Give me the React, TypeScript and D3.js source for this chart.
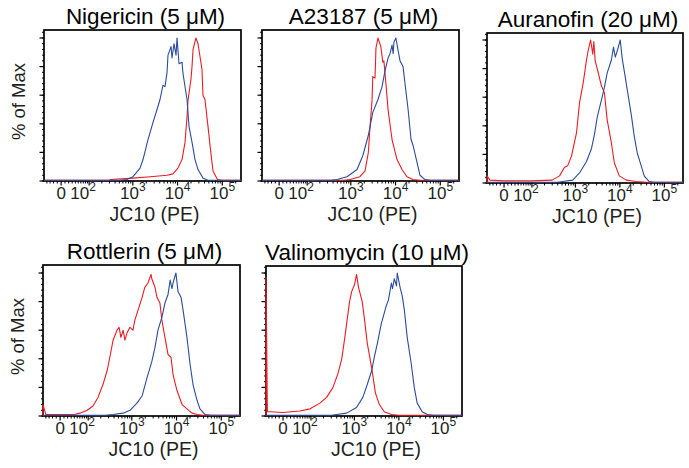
import React, { useEffect, useRef } from 'react';
import * as d3 from 'd3';

// JC10 (PE) intensity vs % of max
const nigericinRed = [[-50, 0.5], [300, 0.5], [310, 1], [1010, 2], [2470, 3], [5820, 4], [7900, 5], [10200, 9], [12600, 15], [14700, 27], [16300, 45], [17100, 56], [20100, 72], [21070, 80], [22200, 92], [25800, 100], [28700, 96], [35200, 78], [37000, 60], [41000, 57], [48000, 38], [55000, 21], [62000, 7], [78000, 1], [100000, 0.5], [262144, 0.5]];
const nigericinBlue = [[-50, 0.5], [500, 0.5], [740, 1], [1010, 3], [1450, 9], [1690, 15], [2190, 29], [2830, 41], [3480, 50], [4060, 57], [4730, 67], [5250, 66], [5820, 76], [6120, 88], [7150, 94], [7530, 86], [8340, 96], [9250, 88], [9730, 100], [10800, 82], [12600, 83], [13270, 75], [16300, 57], [18070, 38], [21090, 27], [24600, 15], [28700, 8], [37150, 2], [48100, 0.5], [262144, 0.5]];

const a23187Red = [[-50, 0.5], [700, 0.5], [960, 1], [1600, 3], [2080, 7], [2470, 20], [2690, 38], [2980, 56], [3100, 73], [3480, 72], [3650, 93], [4050, 100], [4700, 94], [5200, 83], [5500, 84], [6100, 68], [6800, 50], [8350, 29], [10800, 15], [13960, 8], [18000, 3], [24600, 1], [35000, 0.5], [262144, 0.5]];
const a23187Blue = [[-50, 0.5], [350, 0.5], [490, 1], [820, 3], [1380, 8], [1870, 18], [2470, 32], [3100, 48], [4050, 57], [4990, 66], [5820, 77], [6800, 86], [7530, 89], [8350, 95], [8850, 89], [9200, 97], [10200, 100], [11300, 92], [12600, 84], [14700, 80], [16300, 68], [19100, 50], [22200, 29], [24600, 25], [30200, 13], [35200, 4], [45700, 1], [60000, 0.5], [262144, 0.5]];

const auranofinRed = [[-50, 0], [-50, 5], [-40, 2], [0, 1.5], [100, 1.5], [300, 2], [440, 5], [570, 11], [670, 12], [820, 19], [1060, 35], [1240, 56], [1500, 70], [1780, 86], [1950, 93], [2200, 100], [2470, 90], [2600, 99], [2800, 85], [3100, 80], [3850, 68], [4500, 63], [5200, 44], [6450, 28], [7530, 14], [9700, 5], [13960, 2], [23350, 1], [40000, 0.5], [262144, 0.5]];
const auranofinBlue = [[-50, 0.5], [400, 0.5], [520, 1], [870, 2], [1240, 7], [1780, 15], [2300, 24], [2690, 34], [3100, 46], [3850, 58], [4500, 67], [5200, 77], [6450, 86], [7200, 95], [7900, 88], [8850, 93], [10200, 100], [11300, 87], [12600, 78], [14700, 65], [18000, 48], [21000, 33], [24600, 21], [30200, 12], [35200, 5], [45700, 1], [60000, 0.5], [262144, 0.5]];

const rottlerinRed = [[-50, 0], [-50, 8], [-40, 1], [0, 1], [40, 1], [60, 2], [95, 4], [131, 7], [172, 13], [224, 22], [280, 32], [330, 43], [380, 53], [465, 60], [520, 62], [570, 55], [640, 60], [700, 53], [780, 58], [910, 62], [1060, 60], [1170, 67], [1380, 74], [1700, 83], [1950, 90], [2300, 93], [2690, 99], [2800, 96], [3300, 90], [3650, 83], [4250, 79], [4700, 67], [5500, 55], [6450, 43], [7530, 41], [8350, 29], [10200, 18], [13300, 8], [17100, 5], [22200, 2], [28700, 1], [40000, 0.5], [262144, 0.5]];
const rottlerinBlue = [[-50, 0.5], [250, 0.5], [380, 1], [640, 2], [910, 4], [1300, 9], [1700, 14], [2200, 27], [2800, 38], [3300, 48], [3850, 60], [4700, 69], [5500, 79], [6450, 85], [7200, 95], [7900, 89], [8350, 93], [9700, 100], [10800, 87], [12600, 83], [14000, 74], [17100, 55], [20100, 36], [23350, 22], [28700, 11], [33400, 5], [43500, 1], [60000, 0.5], [262144, 0.5]];

const valinomycinRed = [[-50, 0], [-50, 97], [-45, 3], [-36, 3], [0, 2.5], [49, 3.5], [95, 5], [165, 9], [235, 13], [330, 20], [430, 30], [520, 40], [610, 55], [780, 80], [870, 87], [1010, 92], [1120, 99], [1240, 90], [1500, 80], [1700, 67], [1950, 51], [2470, 33], [2980, 16], [3650, 8], [4700, 3], [6800, 1], [10000, 0.5], [262144, 0.5]];
const valinomycinBlue = [[-50, 0.5], [300, 0.5], [400, 1], [670, 2], [1120, 6], [1550, 13], [1950, 22], [2470, 32], [2800, 41], [3300, 51], [4050, 65], [4250, 67], [5200, 77], [5820, 81], [6800, 93], [7200, 89], [7900, 96], [8850, 91], [9200, 100], [10800, 89], [11900, 84], [13300, 74], [15400, 55], [19100, 36], [22200, 20], [25800, 9], [33400, 3], [43500, 1], [60000, 0.5], [262144, 0.5]];

const titles = ['Nigericin (5 μM)', 'A23187 (5 μM)', 'Auranofin (20 μM)', 'Rottlerin (5 μM)', 'Valinomycin (10 μM)'];
const reds = [nigericinRed, a23187Red, auranofinRed, rottlerinRed, valinomycinRed];
const blues = [nigericinBlue, a23187Blue, auranofinBlue, rottlerinBlue, valinomycinBlue];

const xTicks = [0, 100, 1000, 10000, 100000];
const xTickExp = ['', '2', '3', '4', '5'];
const yTicks = [0, 20, 40, 60, 80, 100];

// plot frames: left, top, right, bottom
const frames = [[44, 30, 241, 181], [262, 30, 459, 181], [487, 33, 683, 183], [43, 265, 240, 416], [266, 266, 462, 416]];

const X_MIN = -50;
const X_MAX = 262144;
const FONT = 'Liberation Sans, Arial, Helvetica, sans-serif';
const INK = '#231f20';

// biexponential-ish display transform
const biex = (v) => Math.asinh(v / 50) / Math.LN10;

function App() {
  const svgRef = useRef(null);

  useEffect(() => {
    const svg = d3.select(svgRef.current);
    svg.selectAll('*').remove();
    svg.append('rect').attr('width', 689).attr('height', 468).attr('fill', '#fff');

    // minor ticks along x
    const minorX = [];
    for (let v = -40; v < 0; v += 10) minorX.push(v);
    for (let v = 10; v < 100; v += 10) minorX.push(v);
    for (let p = 100; p <= 100000; p *= 10) {
      for (let m = 2; m <= 9; m++) if (p * m <= X_MAX) minorX.push(p * m);
    }
    const minorY = d3.range(0, 105, 4);

    frames.forEach(([l, t, r, b], i) => {
      const xl = d3.scaleLinear().domain([biex(X_MIN), biex(X_MAX)]).range([l, r]);
      const x = (v) => xl(biex(v));
      const y = d3.scaleLinear().domain([0, 100]).range([b, b - 143]);
      const g = svg.append('g');

      // y ticks
      g.selectAll('.ymin').data(minorY).enter().append('line')
        .attr('x1', l - 2).attr('x2', l).attr('y1', d => y(d)).attr('y2', d => y(d))
        .attr('stroke', '#000').attr('stroke-width', 1);
      g.selectAll('.ymaj').data(yTicks).enter().append('line')
        .attr('x1', l - 4.5).attr('x2', l).attr('y1', d => y(d)).attr('y2', d => y(d))
        .attr('stroke', '#000').attr('stroke-width', 1.2);

      // x ticks
      g.selectAll('.xmin').data(minorX).enter().append('line')
        .attr('x1', d => x(d)).attr('x2', d => x(d)).attr('y1', b).attr('y2', b + 2.5)
        .attr('stroke', '#000').attr('stroke-width', 1);
      g.selectAll('.xmaj').data(xTicks).enter().append('line')
        .attr('x1', d => x(d)).attr('x2', d => x(d)).attr('y1', b).attr('y2', b + 4.5)
        .attr('stroke', '#000').attr('stroke-width', 1.2);

      // frame
      g.append('rect')
        .attr('x', l).attr('y', t).attr('width', r - l).attr('height', b - t)
        .attr('fill', 'none').attr('stroke', '#000').attr('stroke-width', 1.7);

      const line = d3.line().x(d => x(d[0])).y(d => y(d[1]));
      g.append('path').datum(reds[i]).attr('d', line)
        .attr('fill', 'none').attr('stroke', '#ec1c24').attr('stroke-width', 1.1)
        .attr('stroke-linejoin', 'round');
      g.append('path').datum(blues[i]).attr('d', line)
        .attr('fill', 'none').attr('stroke', '#2b4c9c').attr('stroke-width', 1.1)
        .attr('stroke-linejoin', 'round');

      // tick labels (the 10^2 label sits a bit left, against the 0)
      xTicks.forEach((v, k) => {
        const txt = g.append('text')
          .attr('x', x(v) + (k === 1 ? -6 : 0)).attr('y', b + 17.5)
          .attr('text-anchor', 'middle')
          .attr('font-family', FONT).attr('font-size', 17).attr('fill', INK);
        txt.append('tspan').text(k === 0 ? '0' : '10');
        if (xTickExp[k]) {
          txt.append('tspan').attr('dy', -7.5).attr('font-size', 12).text(xTickExp[k]);
        }
      });

      g.append('text')
        .attr('x', (l + r) / 2 + 12).attr('y', b + 39.5)
        .attr('text-anchor', 'middle')
        .attr('font-family', FONT).attr('font-size', 19.5).attr('fill', INK)
        .text('JC10 (PE)');

      g.append('text')
        .attr('x', (l + r) / 2 + 3).attr('y', t - 6.5)
        .attr('text-anchor', 'middle')
        .attr('font-family', FONT).attr('font-size', 22.5).attr('fill', '#000')
        .text(titles[i]);

      if (i === 0 || i === 3) {
        g.append('text')
          .attr('transform', `translate(${l - 19},${(t + b) / 2 - 4}) rotate(-90)`)
          .attr('text-anchor', 'middle')
          .attr('font-family', FONT).attr('font-size', 18.5).attr('fill', INK)
          .text('% of Max');
      }
    });
  }, []);

  return (
    <svg ref={svgRef} width={689} height={468}
      style={{ position: 'absolute', left: 0, top: 0, display: 'block' }} />
  );
}

export default App;
